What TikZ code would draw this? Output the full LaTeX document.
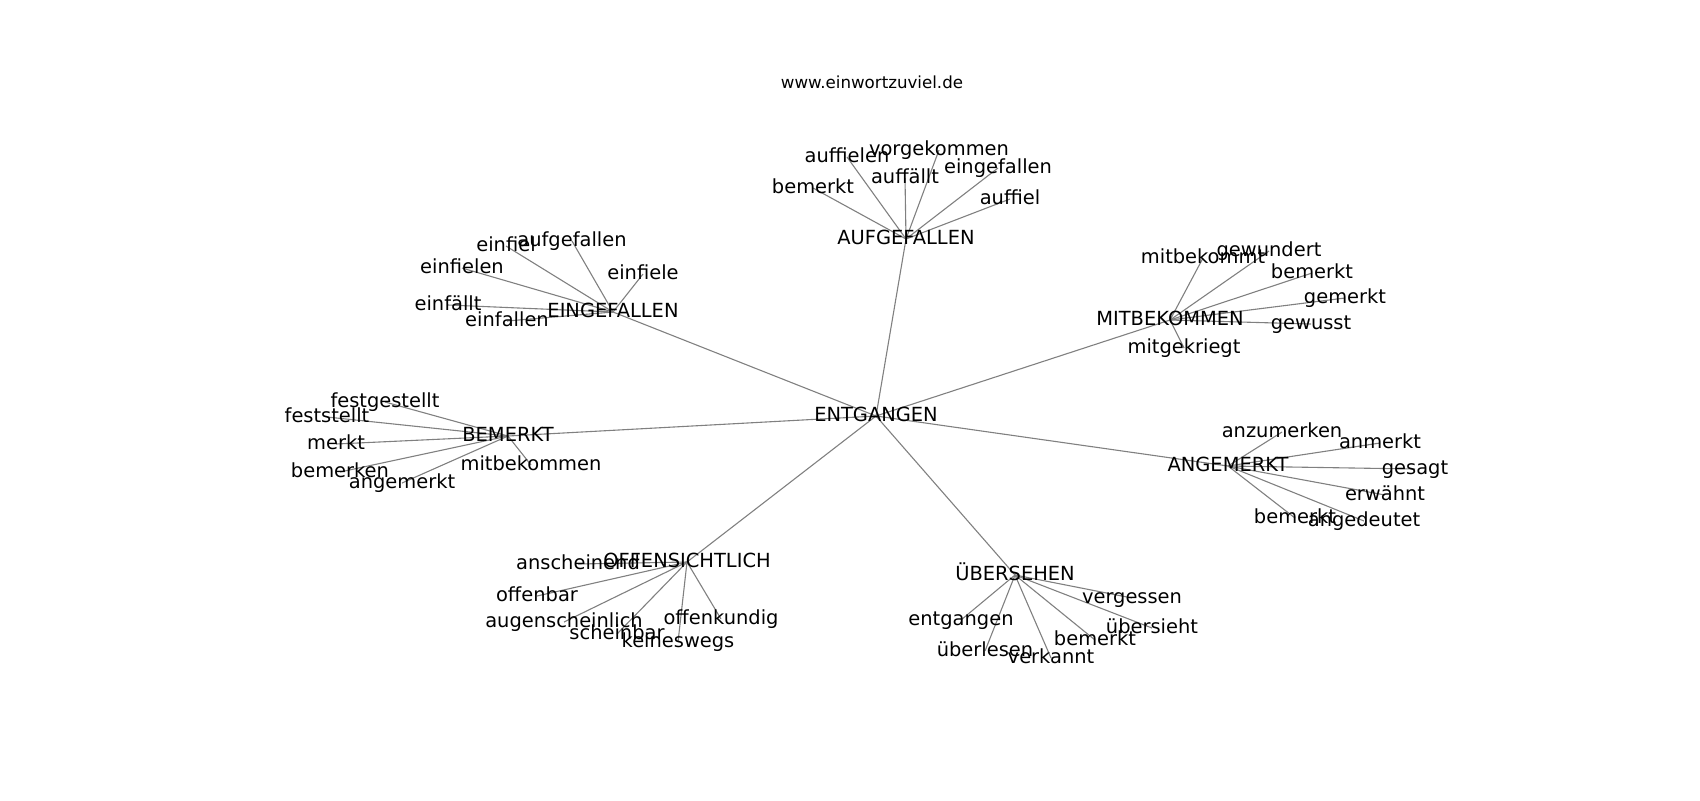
\documentclass[tikz,border=0pt]{standalone}
\usepackage{fontspec}
\setmainfont{DejaVu Sans}
\usetikzlibrary{backgrounds}
\tikzset{
  lbl/.style={inner sep=0pt, text height=0.76em, text depth=0.23em, font=\fontsize{9.72pt}{11pt}\selectfont, text=black},
  edge/.style={draw=black!50, line width=0.55pt},
  ttl/.style={inner sep=0pt, anchor=base, font=\fontsize{8.33pt}{10pt}\selectfont}
}
\begin{document}
\begin{tikzpicture}[x=0.5pt,y=-0.5pt]
\useasboundingbox (0,0) rectangle (1700,800);
\node[ttl] (title) at (872,88) {www.einwortzuviel.de};
% center
\node[lbl] (c) at (876,416) {ENTGANGEN};
% hubs
\node[lbl] (auf) at (906,239) {AUFGEFALLEN};
\node[lbl] (ein) at (613,312) {EINGEFALLEN};
\node[lbl] (mit) at (1170,320) {MITBEKOMMEN};
\node[lbl] (bem) at (508,436) {BEMERKT};
\node[lbl] (ang) at (1228,466) {ANGEMERKT};
\node[lbl] (off) at (687,562) {OFFENSICHTLICH};
\node[lbl] (ueb) at (1015,575) {ÜBERSEHEN};
% AUFGEFALLEN leaves
\node[lbl] (a1) at (847,157) {auffielen};
\node[lbl] (a2) at (939,150) {vorgekommen};
\node[lbl] (a3) at (905,178) {auffällt};
\node[lbl] (a4) at (998,168) {eingefallen};
\node[lbl] (a5) at (813,188) {bemerkt};
\node[lbl] (a6) at (1010,199) {auffiel};
% EINGEFALLEN leaves
\node[lbl] (e1) at (506,246) {einfiel};
\node[lbl] (e2) at (572,241) {aufgefallen};
\node[lbl] (e3) at (462,268) {einfielen};
\node[lbl] (e4) at (643,274) {einfiele};
\node[lbl] (e5) at (448,305) {einfällt};
\node[lbl] (e6) at (507,321) {einfallen};
% MITBEKOMMEN leaves
\node[lbl] (m1) at (1203,258) {mitbekommt};
\node[lbl] (m2) at (1269,251) {gewundert};
\node[lbl] (m3) at (1312,273) {bemerkt};
\node[lbl] (m4) at (1345,298) {gemerkt};
\node[lbl] (m5) at (1311,324) {gewusst};
\node[lbl] (m6) at (1184,348) {mitgekriegt};
% BEMERKT leaves
\node[lbl] (b1) at (385,402) {festgestellt};
\node[lbl] (b2) at (327,417) {feststellt};
\node[lbl] (b3) at (336,444) {merkt};
\node[lbl] (b4) at (340,472) {bemerken};
\node[lbl] (b5) at (402,483) {angemerkt};
\node[lbl] (b6) at (531,465) {mitbekommen};
% ANGEMERKT leaves
\node[lbl] (g1) at (1282,432) {anzumerken};
\node[lbl] (g2) at (1380,443) {anmerkt};
\node[lbl] (g3) at (1415,469) {gesagt};
\node[lbl] (g4) at (1385,495) {erwähnt};
\node[lbl] (g5) at (1295,518) {bemerkt};
\node[lbl] (g6) at (1364,521) {angedeutet};
% OFFENSICHTLICH leaves
\node[lbl] (o1) at (578,564) {anscheinend};
\node[lbl] (o2) at (537,596) {offenbar};
\node[lbl] (o3) at (564,622) {augenscheinlich};
\node[lbl] (o4) at (617,634) {scheinbar};
\node[lbl] (o5) at (678,642) {keineswegs};
\node[lbl] (o6) at (721,619) {offenkundig};
% UEBERSEHEN leaves
\node[lbl] (u1) at (1132,598) {vergessen};
\node[lbl] (u2) at (961,620) {entgangen};
\node[lbl] (u3) at (1152,628) {übersieht};
\node[lbl] (u4) at (1095,640) {bemerkt};
\node[lbl] (u5) at (985,651) {überlesen};
\node[lbl] (u6) at (1051,658) {verkannt};
\begin{pgfonlayer}{background}
\foreach \h in {auf,ein,mit,bem,ang,off,ueb}
  \draw[edge] (c.center) -- (\h.center);
\foreach \l in {a1,a2,a3,a4,a5,a6} \draw[edge] (auf.center) -- (\l.center);
\foreach \l in {e1,e2,e3,e4,e5,e6} \draw[edge] (ein.center) -- (\l.center);
\foreach \l in {m1,m2,m3,m4,m5,m6} \draw[edge] (mit.center) -- (\l.center);
\foreach \l in {b1,b2,b3,b4,b5,b6} \draw[edge] (bem.center) -- (\l.center);
\foreach \l in {g1,g2,g3,g4,g5,g6} \draw[edge] (ang.center) -- (\l.center);
\foreach \l in {o1,o2,o3,o4,o5,o6} \draw[edge] (off.center) -- (\l.center);
\foreach \l in {u1,u2,u3,u4,u5,u6} \draw[edge] (ueb.center) -- (\l.center);
\end{pgfonlayer}
\end{tikzpicture}
\end{document}
